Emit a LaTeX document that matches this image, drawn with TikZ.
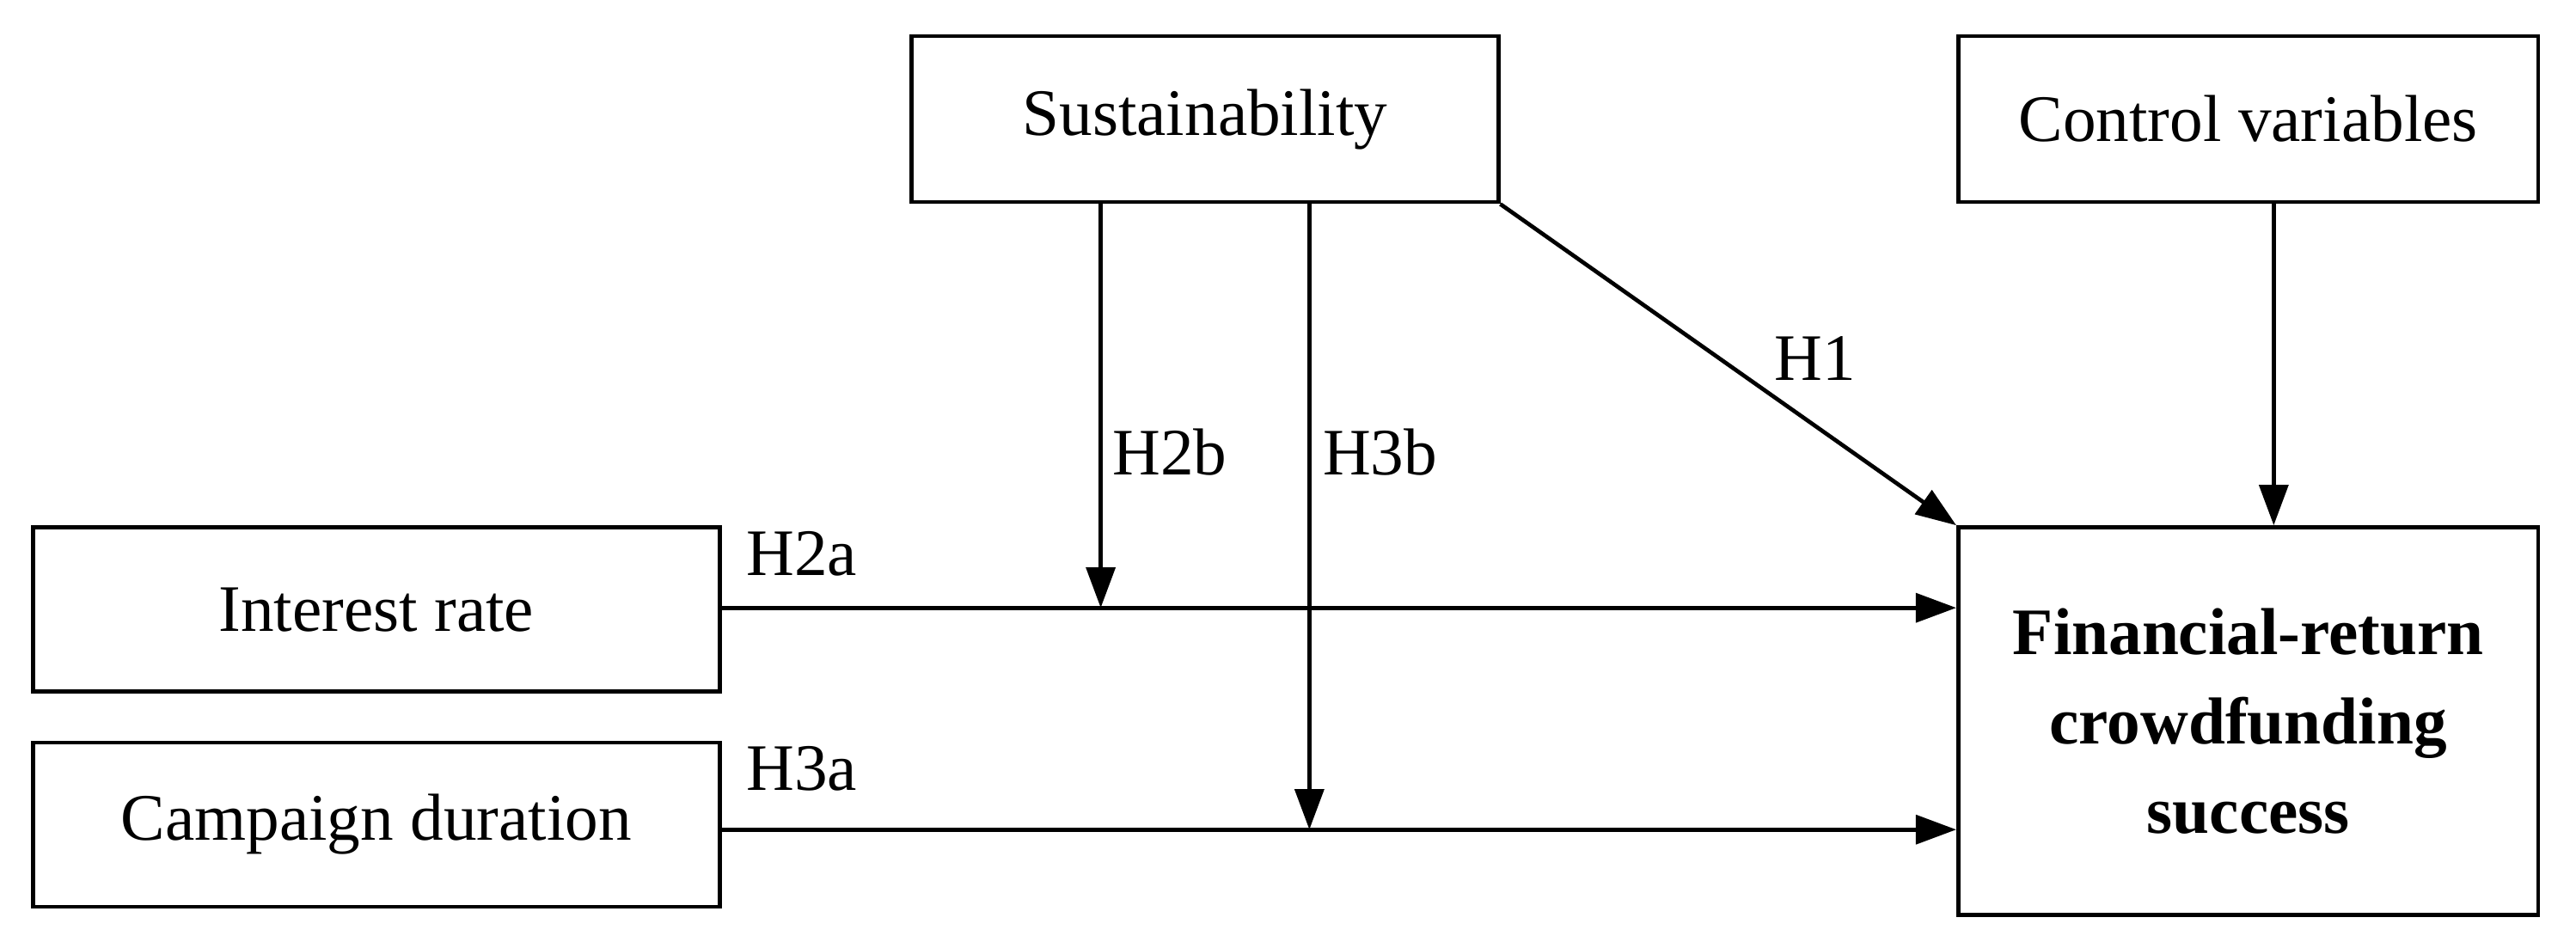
\documentclass[tikz,border=0pt]{standalone}
\usepackage{fontspec}
\setmainfont{Liberation Serif}
\usetikzlibrary{arrows.meta}
\begin{document}
\begin{tikzpicture}[x=0.02cm,y=-0.02cm,
  box/.style={draw,line width=1.4pt,inner sep=0pt,font=\fontsize{23}{27}\selectfont},
  con/.style={line width=1.4pt,-{Triangle[length=14pt,width=10pt]}},
  lab/.style={font=\fontsize{23}{27}\selectfont,anchor=center}]
\useasboundingbox (0,0) rectangle (1568,573);
\node[box,minimum width=357*0.02cm,minimum height=101*0.02cm] (s) at (733.5,72.5) {Sustainability};
\node[box,minimum width=353*0.02cm,minimum height=101*0.02cm] (c) at (1368.5,72.5) {Control variables};
\node[box,minimum width=418*0.02cm,minimum height=100*0.02cm] (i) at (229,371) {Interest rate};
\node[box,minimum width=418*0.02cm,minimum height=100*0.02cm] (d) at (229,502) {Campaign duration};
\node[box,minimum width=353*0.02cm,minimum height=236*0.02cm,align=center,font=\fontsize{23}{31}\selectfont\bfseries] (f) at (1368.5,439) {Financial-return\\crowdfunding\\success};
\coordinate (p1) at (670,370);
\coordinate (p2) at (797,505);
\coordinate (p3) at (1384,0);
\draw[con] (i.east |- p1) -- (f.west |- p1);
\draw[con] (d.east |- p2) -- (f.west |- p2);
\draw[con] (s.south -| p1) -- (p1);
\draw[con] (s.south -| p2) -- (p2);
\draw[con] (s.south east) -- (f.north west);
\draw[con] (c.south -| p3) -- (f.north -| p3);
\node[lab] (h2a) at (488,337) {H2a};
\node[lab] (h3a) at (488,468) {H3a};
\node[lab] (h2b) at (712,275) {H2b};
\node[lab] (h3b) at (840,275) {H3b};
\node[lab] (h1) at (1105,218) {H1};
\end{tikzpicture}
\end{document}
